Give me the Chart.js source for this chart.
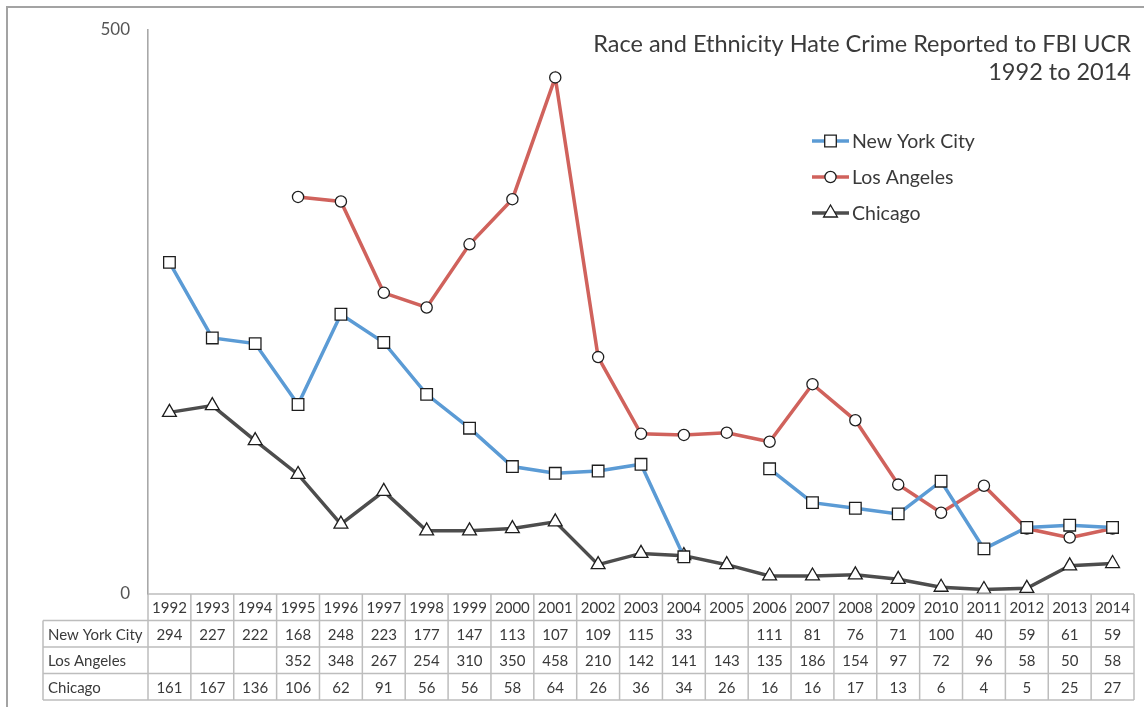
<!DOCTYPE html>
<html>
<head>
<meta charset="utf-8">
<script src="https://cdn.jsdelivr.net/npm/chart.js@4/dist/chart.umd.min.js"></script>
<style>
  html, body { margin: 0; padding: 0; background: #ffffff; }
  #wrap { width: 1144px; height: 707px; }
</style>
</head>
<body>
<div id="wrap"><canvas id="c" width="1144" height="707"></canvas></div>
<script>
// Reported race/ethnicity hate crimes per city, 1992–2014
const years = ['1992','1993','1994','1995','1996','1997','1998','1999','2000','2001','2002',
               '2003','2004','2005','2006','2007','2008','2009','2010','2011','2012','2013','2014'];
const newYorkCity = [294,227,222,168,248,223,177,147,113,107,109,115,33,null,111,81,76,71,100,40,59,61,59];
const losAngeles  = [null,null,null,352,348,267,254,310,350,458,210,142,141,143,135,186,154,97,72,96,58,50,58];
const chicago     = [161,167,136,106,62,91,56,56,58,64,26,36,34,26,16,16,17,13,6,4,5,25,27];
const yTicks = [0, 500];
const titleLines = ['Race and Ethnicity Hate Crime Reported to FBI UCR', '1992 to 2014'];

const FONT = 'Lato, "Noto Sans", sans-serif';
const TEXT = '#3a3a3a';
const GRID = '#bdbdbd';

const series = [
  { label: 'New York City', data: newYorkCity, color: '#5b9bd5', style: 'rect', radius: 8.2 },
  { label: 'Los Angeles',   data: losAngeles,  color: '#d0625c', style: 'circle', radius: 5.6 },
  { label: 'Chicago',       data: chicago,     color: '#4d4d4d', style: 'triangle', radius: 8 }
];

// White page with the grey frame along the top and left edges
const framePlugin = {
  id: 'frame',
  beforeDraw(chart) {
    const ctx = chart.ctx;
    ctx.save();
    ctx.fillStyle = '#ffffff';
    ctx.fillRect(0, 0, chart.width, chart.height);
    ctx.strokeStyle = '#a3a3a3';
    ctx.lineWidth = 2;
    ctx.beginPath();
    ctx.moveTo(7, chart.height);
    ctx.lineTo(7, 7);
    ctx.lineTo(chart.width, 7);
    ctx.stroke();
    ctx.restore();
  }
};

// Title in the upper right, plus the legend block below it
const annotatePlugin = {
  id: 'annotate',
  afterDraw(chart) {
    const ctx = chart.ctx;
    const area = chart.chartArea;
    ctx.save();
    ctx.fillStyle = TEXT;
    ctx.font = '23.5px ' + FONT;
    ctx.textAlign = 'right';
    ctx.textBaseline = 'middle';
    ctx.fillText(titleLines[0], area.right - 3, 44);
    ctx.fillText(titleLines[1], area.right - 3, 72);

    // legend
    const lx = 812, ly = 141, gap = 36;
    series.forEach((s, i) => {
      const y = ly + i * gap;
      ctx.strokeStyle = s.color;
      ctx.lineWidth = 3.5;
      ctx.beginPath();
      ctx.moveTo(lx, y);
      ctx.lineTo(lx + 37, y);
      ctx.stroke();
      ctx.fillStyle = '#ffffff';
      ctx.strokeStyle = '#1e1e1e';
      ctx.lineWidth = 1.3;
      Chart.helpers.drawPoint(ctx, { pointStyle: s.style, radius: s.radius, rotation: 0, borderWidth: 1.3 }, lx + 18.5, y);
      ctx.fillStyle = TEXT;
      ctx.font = '19.5px ' + FONT;
      ctx.textAlign = 'left';
      ctx.fillText(s.label, lx + 40, y + 1);
    });
    ctx.restore();
  }
};

// Data table under the plot, columns aligned to the category scale
const tablePlugin = {
  id: 'dataTable',
  afterDraw(chart) {
    const ctx = chart.ctx;
    const xs = chart.scales.x;
    const area = chart.chartArea;
    const n = years.length;
    const colW = xs.getPixelForValue(1) - xs.getPixelForValue(0);
    const left = xs.getPixelForValue(0) - colW / 2;
    const right = xs.getPixelForValue(n - 1) + colW / 2;
    const top = area.bottom;
    const rowH = 26.5;
    const tableLeft = 43;
    const rows = [newYorkCity, losAngeles, chicago];
    const bottom = top + rowH * (rows.length + 1);

    ctx.save();
    ctx.strokeStyle = GRID;
    ctx.lineWidth = 1.5;
    ctx.beginPath();
    // horizontal lines
    ctx.moveTo(left, top); ctx.lineTo(right, top);
    for (let r = 1; r <= rows.length + 1; r++) {
      const y = top + r * rowH;
      ctx.moveTo(tableLeft, y); ctx.lineTo(right, y);
    }
    // vertical lines
    for (let c = 0; c <= n; c++) {
      const x = left + c * colW;
      ctx.moveTo(x, top); ctx.lineTo(x, bottom);
    }
    ctx.moveTo(tableLeft, top + rowH); ctx.lineTo(tableLeft, bottom);
    ctx.stroke();

    ctx.fillStyle = TEXT;
    ctx.font = '15px ' + FONT;
    ctx.textBaseline = 'middle';
    ctx.textAlign = 'center';
    years.forEach((yr, i) => {
      ctx.fillText(yr, xs.getPixelForValue(i), top + rowH / 2 + 1);
    });
    rows.forEach((vals, r) => {
      const cy = top + (r + 1.5) * rowH + 1;
      ctx.textAlign = 'left';
      ctx.fillText(series[r].label, tableLeft + 5, cy);
      ctx.textAlign = 'center';
      vals.forEach((v, i) => {
        if (v !== null) ctx.fillText(String(v), xs.getPixelForValue(i), cy);
      });
    });
    ctx.restore();
  }
};

new Chart(document.getElementById('c'), {
  type: 'line',
  data: {
    labels: years,
    datasets: series.map(s => ({
      label: s.label,
      data: s.data,
      borderColor: s.color,
      borderWidth: 3.5,
      tension: 0,
      spanGaps: false,
      pointStyle: s.style,
      pointRadius: s.radius,
      pointBackgroundColor: '#ffffff',
      pointBorderColor: '#1e1e1e',
      pointBorderWidth: 1.3
    }))
  },
  options: {
    responsive: false,
    animation: false,
    devicePixelRatio: 1,
    layout: { padding: { top: 30, right: 10, bottom: 113, left: 0 } },
    plugins: {
      legend: { display: false },
      title: { display: false },
      tooltip: { enabled: false }
    },
    scales: {
      x: {
        type: 'category',
        offset: true,
        display: false
      },
      y: {
        min: yTicks[0],
        max: yTicks[1],
        afterBuildTicks(scale) { scale.ticks = yTicks.map(v => ({ value: v })); },
        afterFit(scale) { scale.width = 148; },
        grid: { display: false, drawTicks: false },
        border: { display: true, color: '#a8a8a8', width: 1.6 },
        ticks: {
          padding: 18,
          color: '#555555',
          font: { family: FONT, size: 17 }
        }
      }
    }
  },
  plugins: [framePlugin, annotatePlugin, tablePlugin]
});
</script>
</body>
</html>
